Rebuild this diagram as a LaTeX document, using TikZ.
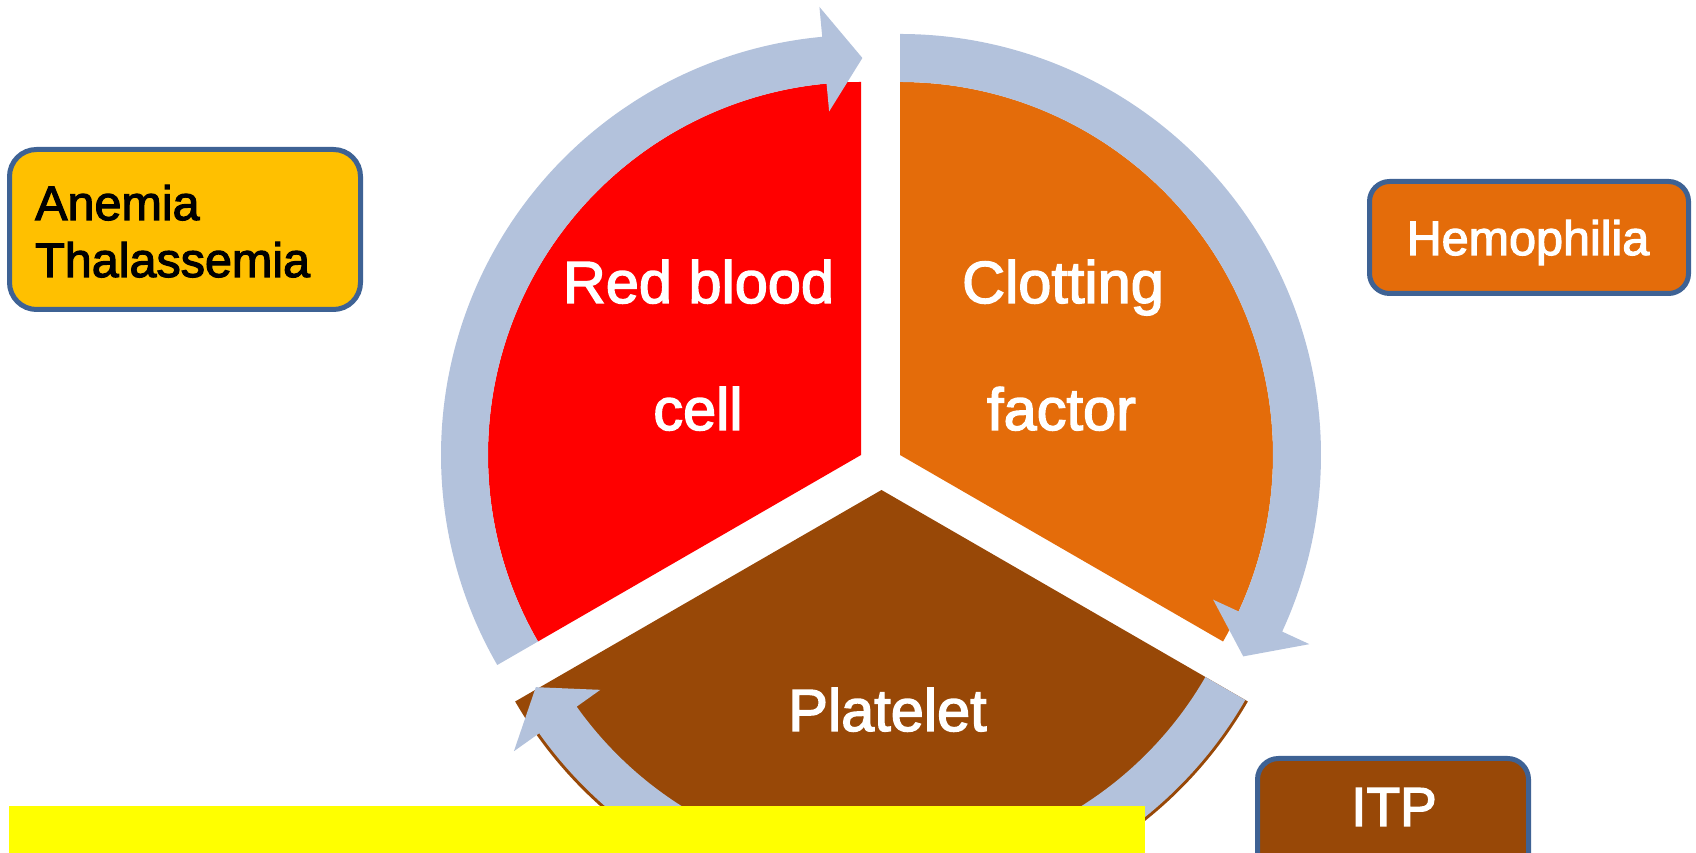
\documentclass[tikz,border=0pt]{standalone}
\usepackage{fontspec}
\setmainfont{Liberation Sans}[FakeBold=2.4]
\definecolor{arrowc}{RGB}{179,194,220}
\definecolor{redc}{RGB}{255,0,0}
\definecolor{orangec}{RGB}{228,108,10}
\definecolor{brownc}{RGB}{152,72,7}
\definecolor{goldc}{RGB}{255,192,0}
\definecolor{yellowc}{RGB}{255,255,0}
\definecolor{borderc}{RGB}{62,98,148}
\begin{document}
\begin{tikzpicture}[x=1pt,y=1pt,
  dbox/.style={draw=borderc, line width=5pt, inner sep=0pt, outer sep=0pt},
  bigtext/.style={text=white, inner sep=0pt, anchor=base, font=\fontsize{59.5}{60}\selectfont},
  boxtext/.style={inner sep=0pt, font=\fontsize{48.5}{50}\selectfont},
  cyclearrow/.style={fill=arrowc}]
\useasboundingbox (0,0) rectangle (1696,853);
\clip (0,0) rectangle (1696,853);
\coordinate (R) at (861,398);
\coordinate (O) at (900,398);
\coordinate (B) at (881.5,363);
% sectors
\fill[redc] (R) -- ++(90:373) arc[start angle=90, end angle=210, radius=373] -- cycle;
\fill[orangec] (O) -- ++(90:373) arc[start angle=90, end angle=-30, radius=373] -- cycle;
\fill[brownc] (B) -- ++(210:423) arc[start angle=210, end angle=330, radius=423] -- cycle;
% circular arrows
\begin{scope}[shift={(R)}]
\fill[cyclearrow] (210:373) arc[start angle=210, end angle=95.3, radius=373] -- (95.3:345) -- (89.8:397) -- (95.3:450) -- (95.3:420) arc[start angle=95.3, end angle=210, radius=420] -- cycle;
\end{scope}
\begin{scope}[shift={(O)}]
\fill[cyclearrow] (90:373) arc[start angle=90, end angle=-24.8, radius=373] -- (-24.8:345) -- (-30.4:398) -- (-24.8:451) -- (-24.8:421) arc[start angle=-24.8, end angle=90, radius=421] -- cycle;
\end{scope}
\begin{scope}[shift={(B)}]
\fill[cyclearrow] (330:374) arc[start angle=330, end angle=215.4, radius=374] -- (215.4:345) -- (209.7:398) -- (215.4:451) -- (215.4:420) arc[start angle=215.4, end angle=330, radius=420] -- cycle;
\end{scope}
% sector labels
\node[bigtext] (rbc1) at (698.5,550) {Red blood};
\node[bigtext] (rbc2) at (698,423) {cell};
\node[bigtext] (cf1) at (1063,550) {Clotting};
\node[bigtext] (cf2) at (1061.5,423) {factor};
\node[bigtext] (plt) at (887.5,122) {Platelet};
% disease boxes
\node[dbox, fill=goldc, rounded corners=27pt, minimum width=351pt, minimum height=160pt] (anemiabox) at (185,623.5) {};
\node[boxtext, anchor=base west] (anemia) at (35,633) {Anemia};
\node[boxtext, anchor=base west] (thal) at (35,576) {Thalassemia};
\node[dbox, fill=orangec, rounded corners=20pt, minimum width=319pt, minimum height=112pt] (hemobox) at (1529,615.5) {};
\node[boxtext, text=white, anchor=base] (hemo) at (1528,598) {Hemophilia};
\node[dbox, fill=brownc, rounded corners=21pt, minimum width=271pt, minimum height=126pt] (itpbox) at (1393,31.5) {};
\node[boxtext, text=white, anchor=base, font=\fontsize{55}{56}\selectfont] (itp) at (1394,27) {ITP};
% yellow bar
\fill[yellowc] (9,0) rectangle (1145,47);
\end{tikzpicture}
\end{document}
